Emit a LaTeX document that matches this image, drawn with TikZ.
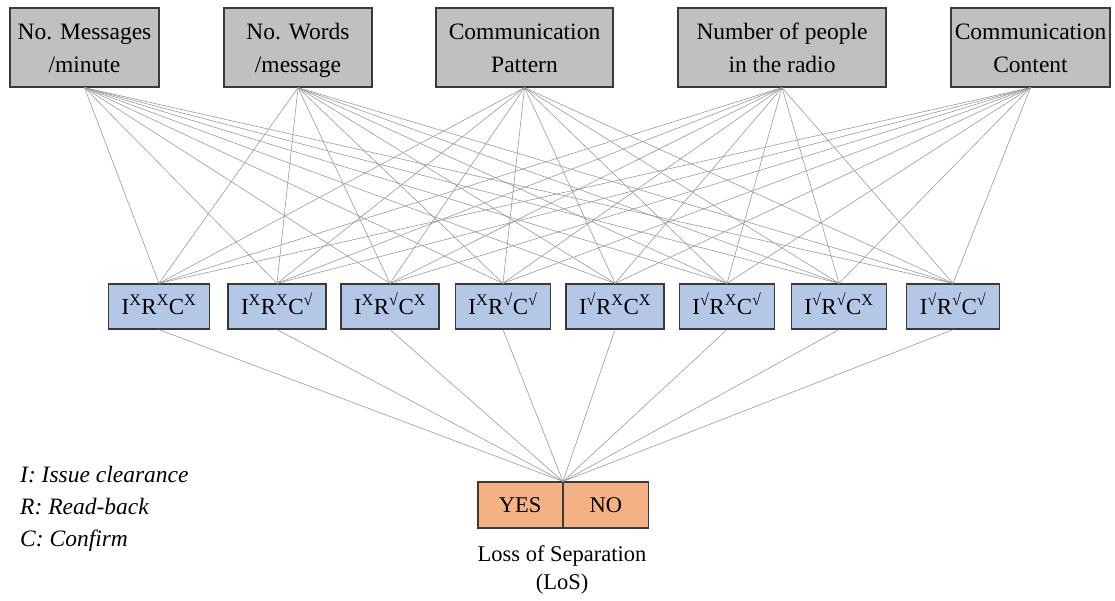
\documentclass[tikz,border=0pt]{standalone}
\usepackage{fontspec}
\setmainfont{Liberation Serif}
\definecolor{factorfill}{HTML}{C0C0C0}
\definecolor{statefill}{HTML}{B4C7E7}
\definecolor{losfill}{HTML}{F4B183}
\definecolor{boxline}{HTML}{3A3A3A}
\definecolor{linkgray}{HTML}{9A9A9A}
\newcommand\crossup{\textsuperscript{X}}
\newcommand\tickup{\textsuperscript{√}}
\begin{document}
\begin{tikzpicture}[x=1pt,y=-1pt,
  factor/.style={draw=boxline, line width=1.3pt, fill=factorfill, align=center,
    font=\fontsize{23.5}{33}\selectfont, text height=51pt, text depth=0pt,
    inner xsep=0pt, inner ysep=0pt, minimum height=79pt},
  state/.style={draw=boxline, line width=1.3pt, fill=statefill,
    font=\fontsize{23}{28}\selectfont, text height=15.5pt, text depth=0pt,
    inner xsep=13pt, inner ysep=0pt, minimum height=45pt},
  outcome/.style={draw=boxline, line width=1.1pt, fill=losfill,
    font=\fontsize{22.5}{28}\selectfont, text height=15pt, text depth=0pt,
    inner sep=0pt, minimum height=46pt, minimum width=84.5pt},
  link/.style={draw=linkgray, line width=0.6pt},
  legend/.style={font=\fontsize{23.5}{32}\selectfont\itshape, align=left,
    inner sep=0pt, anchor=north west},
  caption/.style={font=\fontsize{22.5}{28}\selectfont, align=center, inner sep=0pt}]
\useasboundingbox (0,0) rectangle (1115,601);

% factors
\node[factor, minimum width=149pt] (f1) at (84.5,47.5) {No. Messages\\/minute};
\node[factor, minimum width=148pt] (f2) at (298,47.5) {No. Words\\/message};
\node[factor, minimum width=177pt] (f3) at (524.5,47.5) {Communication\\Pattern};
\node[factor, minimum width=208pt] (f4) at (782,47.5) {Number of people\\in the radio};
\node[factor, minimum width=159pt] (f5) at (1030.5,47.5) {Communication\\Content};

% communication states
\node[state] (s1) at (159,306.5) {I\crossup R\crossup C\crossup};
\node[state] (s2) at (277,306.5) {I\crossup R\crossup C\tickup};
\node[state] (s3) at (390,306.5) {I\crossup R\tickup C\crossup};
\node[state] (s4) at (503,306.5) {I\crossup R\tickup C\tickup};
\node[state] (s5) at (615,306.5) {I\tickup R\crossup C\crossup};
\node[state] (s6) at (727,306.5) {I\tickup R\crossup C\tickup};
\node[state] (s7) at (839,306.5) {I\tickup R\tickup C\crossup};
\node[state] (s8) at (953,306.5) {I\tickup R\tickup C\tickup};

% outcome
\node[outcome, anchor=east] (yes) at (563,505) {YES};
\node[outcome, anchor=west] (no) at (563,505) {NO};
\node[caption, anchor=north] (loslabel) at (562,545) {Loss of Separation\\(LoS)};

% legend
\node[legend] (key) at (20,466) {I: Issue clearance\\R: Read-back\\C: Confirm};

% links
\foreach \f in {f1,f2,f3,f4,f5}
  \foreach \s in {s1,s2,s3,s4,s5,s6,s7,s8}
    \draw[link] (\f.south) -- (\s.north);
\foreach \s in {s1,s2,s3,s4,s5,s6,s7,s8}
  \draw[link] (\s.south) -- (yes.north east);
\end{tikzpicture}
\end{document}
